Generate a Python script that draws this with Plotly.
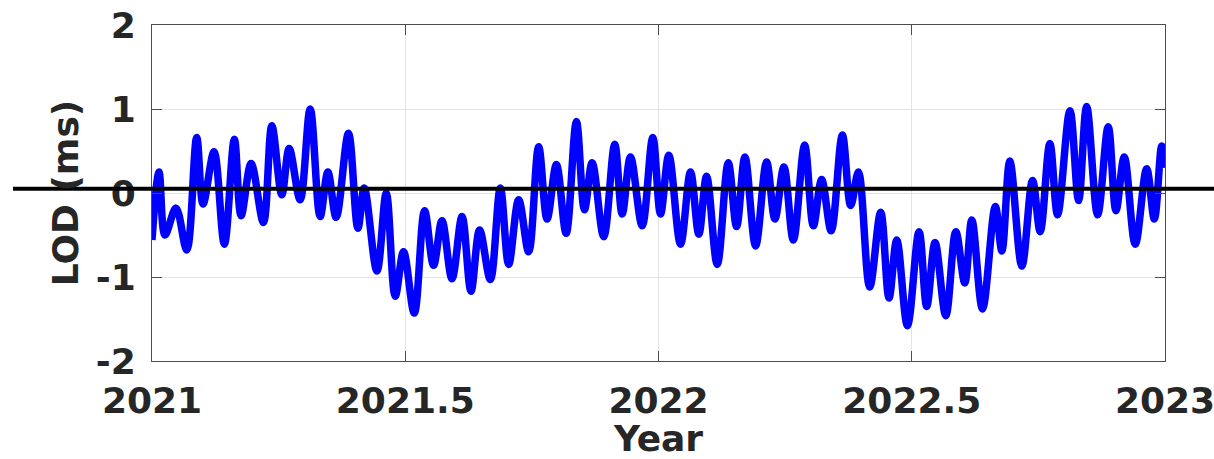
import plotly.graph_objects as go

# Extrema of the LOD series (year, ms)
year = [2021.000, 2021.0138, 2021.0257, 2021.0474, 2021.0686, 2021.0883, 2021.1008, 2021.1225,
        2021.1429, 2021.1626, 2021.1759, 2021.1957, 2021.2200, 2021.2366, 2021.2563, 2021.2708,
        2021.2925, 2021.3123, 2021.3320, 2021.3472, 2021.3636, 2021.3879, 2021.4065, 2021.4190,
        2021.4441, 2021.4625, 2021.4802, 2021.4966, 2021.5178, 2021.5381, 2021.5559, 2021.5725,
        2021.5923, 2021.6121, 2021.6298, 2021.6468, 2021.6680, 2021.6877, 2021.7042, 2021.7239,
        2021.7437, 2021.7634, 2021.7800, 2021.7984, 2021.8176, 2021.8379, 2021.8538, 2021.8690,
        2021.8919, 2021.9136, 2021.9283, 2021.9447, 2021.9678, 2021.9887, 2022.0040, 2022.0204,
        2022.0435, 2022.0632, 2022.0796, 2022.0949, 2022.1160, 2022.1377, 2022.1542, 2022.1706,
        2022.1917, 2022.2134, 2022.2298, 2022.2476, 2022.2662, 2022.2885, 2022.3057, 2022.3221,
        2022.3409, 2022.3630, 2022.3794, 2022.3947, 2022.4170, 2022.4387, 2022.4551, 2022.4704,
        2022.4915, 2022.5144, 2022.5296, 2022.5460, 2022.5672, 2022.5870, 2022.6047, 2022.6186,
        2022.6397, 2022.6650, 2022.6779, 2022.6937, 2022.7174, 2022.7385, 2022.7536, 2022.7727,
        2022.7879, 2022.8123, 2022.8294, 2022.8453, 2022.8670, 2022.8879, 2022.9032, 2022.9196,
        2022.9413, 2022.9638, 2022.9789, 2022.9935, 2023.000]
lod = [-0.56, 0.25, -0.50, -0.18, -0.68, 0.66, -0.13, 0.49,
       -0.61, 0.64, -0.27, 0.35, -0.35, 0.80, -0.02, 0.53,
       -0.08, 1.00, -0.28, 0.25, -0.29, 0.71, -0.42, 0.06,
       -0.93, 0.00, -1.23, -0.70, -1.43, -0.21, -0.86, -0.33,
       -1.02, -0.28, -1.17, -0.44, -1.03, 0.06, -0.85, -0.08,
       -0.70, 0.55, -0.31, 0.34, -0.48, 0.85, -0.20, 0.36,
       -0.52, 0.58, -0.25, 0.43, -0.39, 0.66, -0.25, 0.45,
       -0.61, 0.25, -0.49, 0.20, -0.85, 0.36, -0.40, 0.43,
       -0.63, 0.37, -0.31, 0.31, -0.56, 0.57, -0.39, 0.16,
       -0.45, 0.69, -0.15, 0.25, -1.12, -0.23, -1.25, -0.56,
       -1.58, -0.46, -1.35, -0.59, -1.46, -0.46, -1.07, -0.32,
       -1.38, -0.16, -0.69, 0.38, -0.87, 0.15, -0.46, 0.59,
       -0.26, 0.98, -0.09, 1.03, -0.26, 0.79, -0.21, 0.43,
       -0.61, 0.29, -0.31, 0.56, 0.30]

x_ticks = [2021, 2021.5, 2022, 2022.5, 2023]
x_tick_text = ["2021", "2021.5", "2022", "2022.5", "2023"]
y_ticks = [-2, -1, 0, 1, 2]
y_tick_text = ["-2", "-1", "0", "1", "2"]
ref_level = 0.05

font_family = "DejaVu Sans"
text_color = "#262626"
axis_color = "#4d4d4d"

fig = go.Figure()
fig.add_trace(go.Scatter(
    x=year, y=lod, mode="lines",
    line=dict(color="#0000ff", width=7.5, shape="spline", smoothing=1.0),
    showlegend=False, hoverinfo="skip",
))

fig.add_shape(type="line", xref="paper", yref="y",
              x0=(13 - 152) / 1013, x1=(1214 - 152) / 1013,
              y0=ref_level, y1=ref_level,
              line=dict(color="black", width=4), layer="above")

axis_common = dict(
    showline=True, linecolor=axis_color, linewidth=1, mirror="ticks",
    ticks="inside", ticklen=10, tickcolor=axis_color, tickwidth=1,
    showgrid=True, gridcolor="#e3e3e3", gridwidth=1, zeroline=False,
    automargin=False, ticklabeloverflow="allow",
    tickfont=dict(family=font_family, size=36, color=text_color, weight="bold"),
)

fig.update_xaxes(range=[2021, 2023], tickvals=x_ticks, ticktext=x_tick_text,
                 ticklabelstandoff=8,
                 title=dict(text="Year", standoff=7,
                            font=dict(family=font_family, size=36, color=text_color, weight="bold")),
                 **axis_common)
fig.update_yaxes(range=[-2, 2], tickvals=y_ticks, ticktext=y_tick_text,
                 ticklabelstandoff=8,
                 title=dict(text="LOD (ms)", standoff=6,
                            font=dict(family=font_family, size=36, color=text_color, weight="bold")),
                 **axis_common)

fig.update_layout(
    width=1214, height=459,
    margin=dict(l=152, r=49, t=25, b=98, pad=0),
    paper_bgcolor="white", plot_bgcolor="white",
)

fig.write_html("out.html")
